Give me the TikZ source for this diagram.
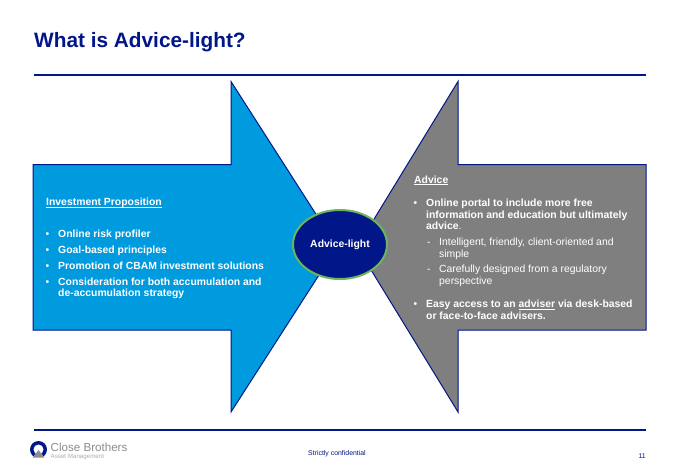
\documentclass[tikz,border=0pt]{standalone}
\usepackage{fontspec}
\setmainfont{Liberation Sans}
\usetikzlibrary{shapes.geometric}
\definecolor{navy}{HTML}{001689}
\definecolor{skyblue}{HTML}{009ADE}
\definecolor{midgrey}{HTML}{7F7F7F}
\definecolor{ringgreen}{HTML}{6CB55A}
\definecolor{logogrey}{HTML}{8C8C8C}
\newcommand{\ul}[1]{\underline{\smash{#1}}}
\tikzset{
  rulebar/.style={draw=navy, line width=2pt},
  bigarrow/.style={draw=navy, line width=1pt, line join=miter},
  bodytext/.style={anchor=north west, inner sep=0pt, text=white, font=\fontsize{10.4}{11.4}\selectfont\bfseries, align=left},
  subtext/.style={bodytext, font=\fontsize{10.4}{11.4}\selectfont},
  headtext/.style={anchor=base west, inner sep=0pt, text=white, font=\fontsize{10.4}{11.4}\selectfont\bfseries},
  dot/.style={anchor=base west, inner sep=0pt, text=white, font=\fontsize{10.4}{11}\selectfont},
  dashmark/.style={anchor=base west, inner sep=0pt, text=white, font=\fontsize{10.4}{11.4}\selectfont},
  footnote/.style={inner sep=0pt, text=navy, font=\fontsize{6.9}{9}\selectfont},
}
\begin{document}
\begin{tikzpicture}[x=1pt, y=-1pt]
  \useasboundingbox (0, 0) rectangle (680, 471);
  \fill[white] (0, 0) rectangle (680, 471);
  % title and rules
  \node[anchor=base west, inner sep=0pt, text=navy, font=\fontsize{20.8}{24}\selectfont\bfseries] (title) at (34, 47) {What is Advice-light?};
  \draw[rulebar] (34, 74.5) -- (646, 74.5);
  \draw[rulebar] (34, 430) -- (646, 430);
  % arrows
  \draw[bigarrow, fill=skyblue] (33, 164.5) -- (231, 164.5) -- (231, 81.5) -- (337, 247) -- (231, 412) -- (231, 330) -- (33, 330) -- cycle;
  \draw[bigarrow, fill=midgrey] (646, 164.5) -- (458, 164.5) -- (458, 81.5) -- (357, 247) -- (458, 412) -- (458, 330) -- (646, 330) -- cycle;
  \node[ellipse, draw=ringgreen, line width=2pt, fill=navy, minimum width=94pt, minimum height=69pt, inner sep=0pt, text=white, font=\fontsize{10.4}{12}\selectfont\bfseries] (centre) at (340, 244.5) {Advice-light};
  % left text
  \node[headtext] (invhead) at (46, 205.5) {\ul{Investment Proposition}};
  \node[dot] (dot1) at (45.5, 237.5) {•};
  \node[bodytext] (inv1) at (58, 230) {Online risk profiler};
  \node[dot] (dot2) at (45.5, 253.5) {•};
  \node[bodytext] (inv2) at (58, 246) {Goal-based principles};
  \node[dot] (dot3) at (45.5, 269.5) {•};
  \node[bodytext] (inv3) at (58, 262) {Promotion of CBAM investment solutions};
  \node[dot] (dot4) at (45.5, 285) {•};
  \node[bodytext] (inv4) at (58, 277.5) {Consideration for both accumulation and\\de-accumulation strategy};
  % right text
  \node[headtext] (advhead) at (414, 183) {\ul{Advice}};
  \node[dot] (dot5) at (413.5, 206.5) {•};
  \node[bodytext] (adv1) at (426, 199) {Online portal to include more free\\information and education but ultimately\\advice\textmd{.}};
  \node[dashmark] (dash1) at (427, 245.5) {-};
  \node[subtext] (adv2) at (439, 238) {Intelligent, friendly, client-oriented and\\simple};
  \node[dashmark] (dash2) at (427, 272.5) {-};
  \node[subtext] (adv3) at (439, 265) {Carefully designed from a regulatory\\perspective};
  \node[dot] (dot6) at (413.5, 307.5) {•};
  \node[bodytext] (adv4) at (426, 300) {Easy access to an \ul{adviser} via desk-based\\or face-to-face advisers.};
  % footer
  \fill[navy] (38.5, 449.5) circle (8.5);
  \fill[white] (38.5, 449.5) circle (5);
  \fill[white] (32, 459) -- (38.5, 449.5) -- (45, 459) -- cycle;
  \fill[logogrey] (32.5, 457.7) -- (38.5, 450) -- (44.5, 457.7) -- cycle;
  \node[anchor=base west, inner sep=0pt, text=logogrey, font=\fontsize{11.6}{14}\selectfont] (brand) at (50.5, 451.7) {Close Brothers};
  \node[anchor=base west, inner sep=0pt, text=logogrey!70, font=\fontsize{6.2}{8}\selectfont] (brandsub) at (50.5, 458.3) {Asset Management};
  \node[footnote, anchor=base] (conf) at (337, 455) {Strictly confidential};
  \node[footnote, anchor=base east] (page) at (646, 458) {11};
\end{tikzpicture}
\end{document}
